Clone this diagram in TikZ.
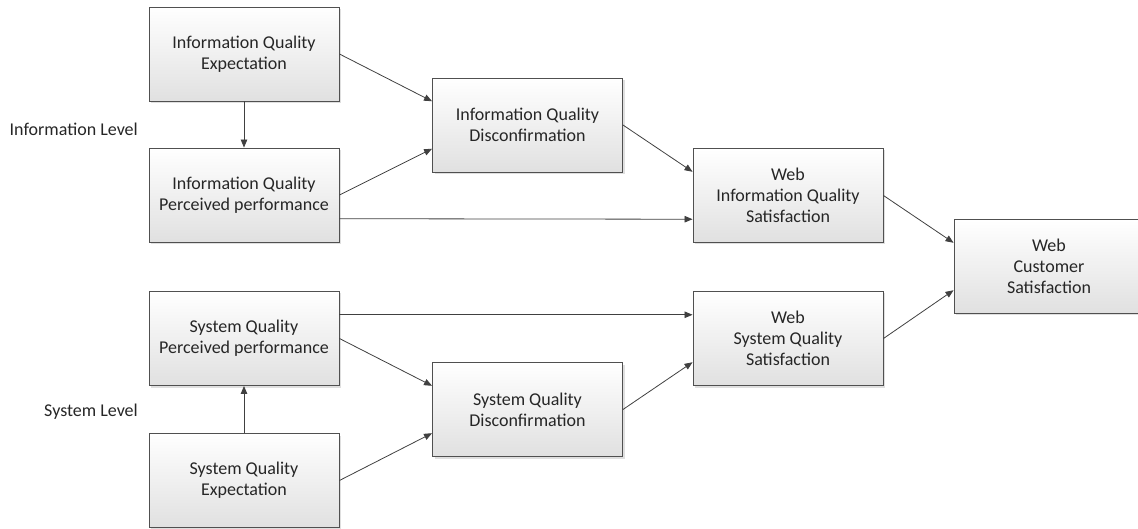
\documentclass[tikz,border=0pt]{standalone}
\usepackage{fontspec}
\setmainfont{Carlito}
\usetikzlibrary{arrows.meta,shadows,calc}
\definecolor{edge}{HTML}{404040}
\definecolor{frame}{HTML}{505050}
\definecolor{ink}{HTML}{262626}
\begin{document}
\begin{tikzpicture}[x=1pt,y=-1pt,
  box/.style={draw=frame,line width=0.9pt,rectangle,minimum width=190pt,minimum height=94pt,
    top color=white,bottom color=black!12,align=center,font=\fontsize{18}{21}\selectfont,
    text=ink,inner sep=2pt,
    drop shadow={shadow xshift=2pt,shadow yshift=-2pt,fill=black!25,opacity=0.5}},
  lbl/.style={font=\fontsize{18}{21}\selectfont,text=ink,anchor=east,inner sep=0pt},
  link/.style={draw=edge,line width=0.8pt,-{Triangle[length=8pt,width=6.5pt]}}]
\useasboundingbox (0,0) rectangle (1138,529);
\clip (0,0) rectangle (1138,529);

% information level
\node[box] (iqe) at (244,54) {Information Quality\\Expectation};
\node[box] (iqp) at (244,195) {Information Quality\\Perceived performance};
\node[box] (iqd) at (527.5,125) {Information Quality\\Disconfirmation};
\node[box] (wiqs) at (788,195.5) {Web\\Information Quality\\Satisfaction};

% system level
\node[box] (sqp) at (244,338.5) {System Quality\\Perceived performance};
\node[box] (sqe) at (244,480.5) {System Quality\\Expectation};
\node[box] (sqd) at (527.5,409.5) {System Quality\\Disconfirmation};
\node[box] (wsqs) at (788,338.5) {Web\\System Quality\\Satisfaction};

% overall outcome, running off the right edge
\node[box,minimum width=204pt] (wcs) at (1056,266.5) {};
\node[font=\fontsize{18}{21}\selectfont,text=ink,align=center] (wcstext) at (1049,266.5) {Web\\Customer\\Satisfaction};

% level labels
\node[lbl] (infolvl) at (138,129) {Information Level};
\node[lbl] (syslvl) at (138,412) {System Level};

% information paths
\draw[link] (iqe.south) -- (iqp.north);
\draw[link] (iqe.east) -- ($(iqd.north west)!0.25!(iqd.south west)$);
\draw[link] (iqp.east) -- ($(iqd.north west)!0.75!(iqd.south west)$);
\draw[link] ($(iqp.north east)!0.75!(iqp.south east)$) -- ($(wiqs.north west)!0.75!(wiqs.south west)$);
\draw[link] (iqd.east) -- ($(wiqs.north west)!0.25!(wiqs.south west)$);
\draw[link] (wiqs.east) -- ($(wcs.north west)!0.25!(wcs.south west)$);

% system paths
\draw[link] (sqe.north) -- (sqp.south);
\draw[link] (sqe.east) -- ($(sqd.north west)!0.75!(sqd.south west)$);
\draw[link] (sqp.east) -- ($(sqd.north west)!0.25!(sqd.south west)$);
\draw[link] ($(sqp.north east)!0.25!(sqp.south east)$) -- ($(wsqs.north west)!0.25!(wsqs.south west)$);
\draw[link] (sqd.east) -- ($(wsqs.north west)!0.75!(wsqs.south west)$);
\draw[link] (wsqs.east) -- ($(wcs.north west)!0.75!(wcs.south west)$);
\end{tikzpicture}
\end{document}
